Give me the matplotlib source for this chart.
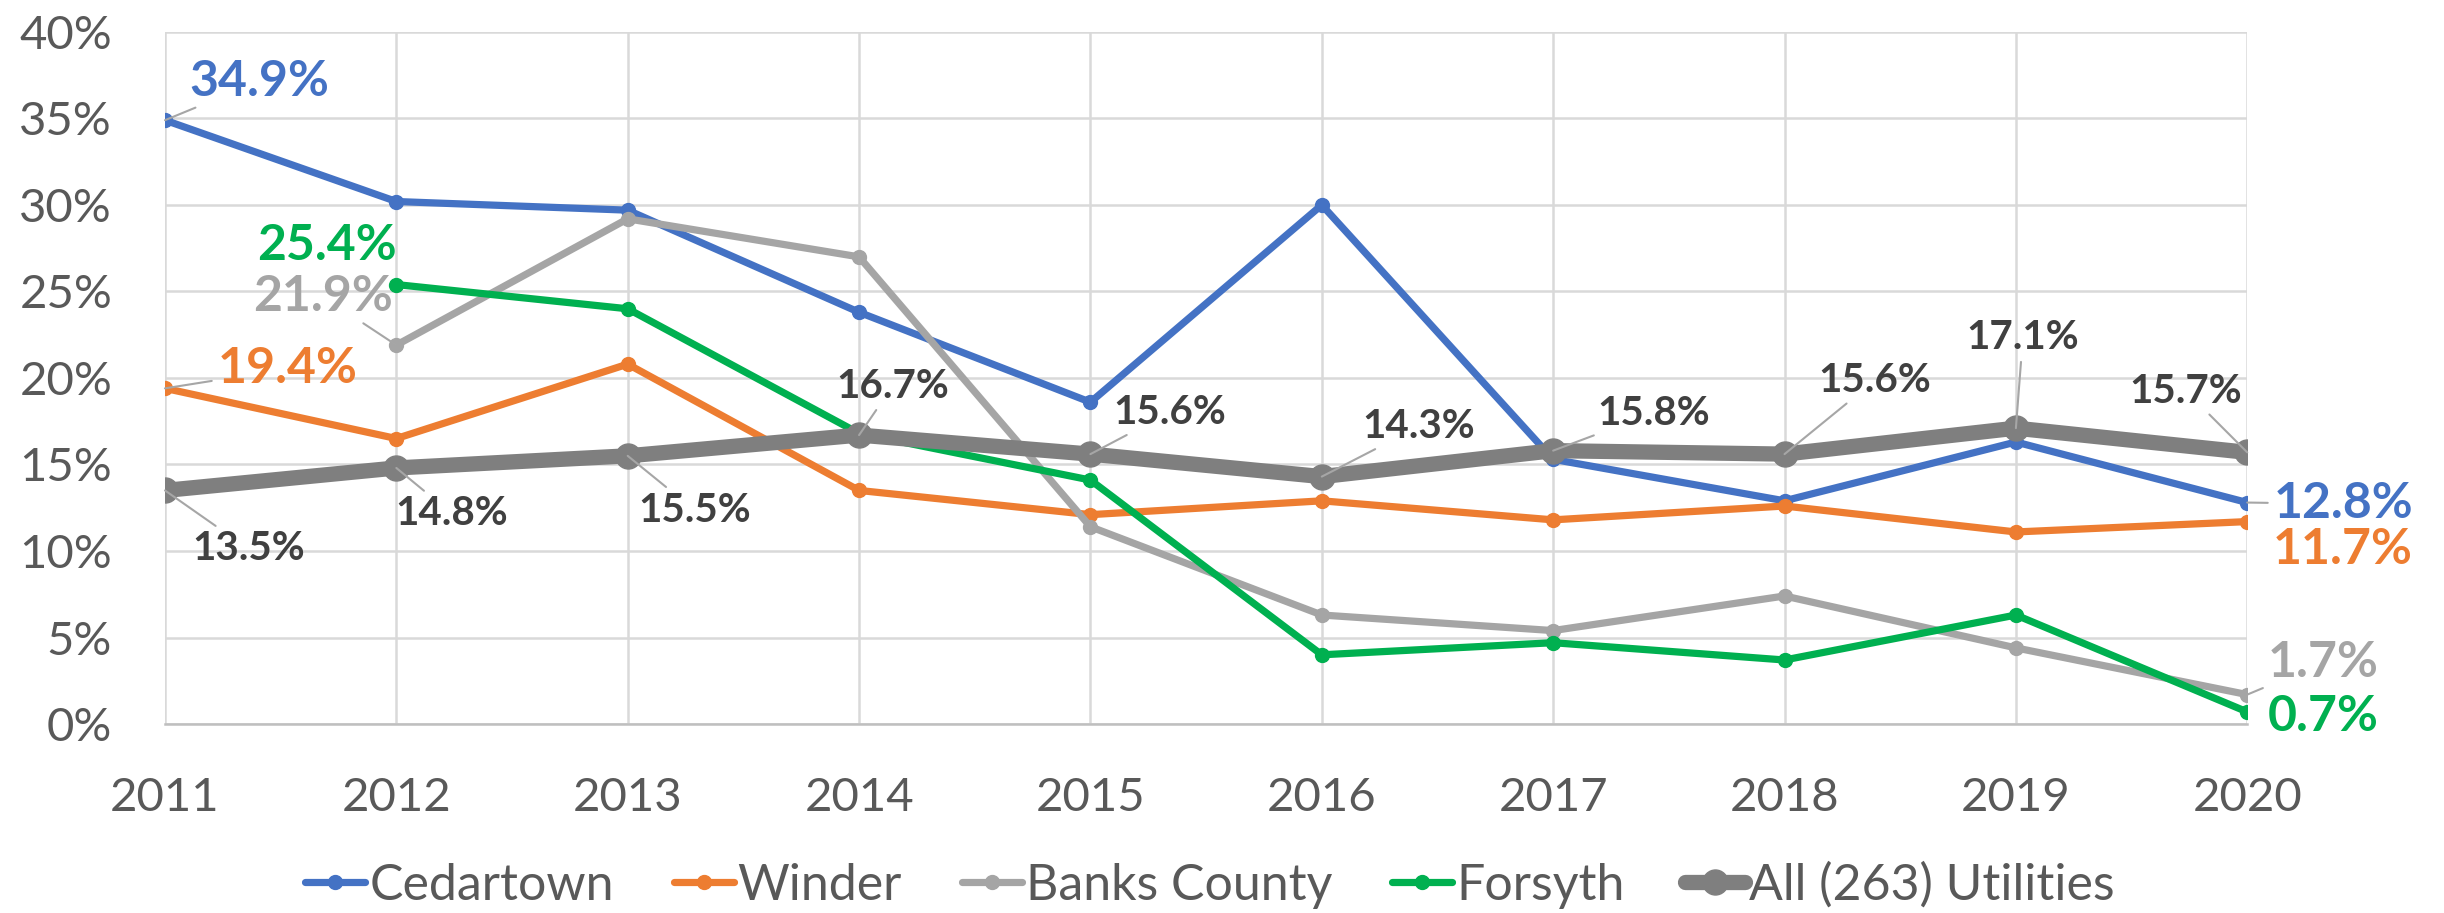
import matplotlib.pyplot as plt
from matplotlib.ticker import FuncFormatter

years = [2011, 2012, 2013, 2014, 2015, 2016, 2017, 2018, 2019, 2020]

cedartown = [34.9, 30.2, 29.7, 23.8, 18.6, 30.0, 15.3, 12.9, 16.3, 12.8]
winder = [19.4, 16.5, 20.8, 13.5, 12.1, 12.9, 11.8, 12.6, 11.1, 11.7]
banks_county = [None, 21.9, 29.2, 27.0, 11.4, 6.3, 5.4, 7.4, 4.4, 1.7]
forsyth = [None, 25.4, 24.0, 16.8, 14.1, 4.0, 4.7, 3.7, 6.3, 0.7]
all_utilities = [13.5, 14.8, 15.5, 16.7, 15.6, 14.3, 15.8, 15.6, 17.1, 15.7]

series_names = ["Cedartown", "Winder", "Banks County", "Forsyth", "All (263) Utilities"]

plt.rcParams["font.family"] = ["Lato", "DejaVu Sans"]

BLUE = "#4472C4"
ORANGE = "#ED7D31"
GREY = "#A5A5A5"
GREEN = "#00B050"
DARK = "#7F7F7F"
LABEL_DARK = "#404040"
LEADER = "#A6A6A6"

fig = plt.figure(figsize=(24.44, 9.13), dpi=100)
ax = fig.add_axes([0.0675, 0.207, 0.852, 0.758])


def clean(values):
    return [float("nan") if v is None else v for v in values]


styles = [
    (cedartown, BLUE, 5.2, 10),
    (winder, ORANGE, 5.2, 10),
    (banks_county, GREY, 5.2, 10),
    (forsyth, GREEN, 5.2, 10),
    (all_utilities, DARK, 11, 18),
]
for (values, color, lw, ms), name in zip(styles, series_names):
    ax.plot(years, clean(values), color=color, linewidth=lw, marker="o",
            markersize=ms, label=name, solid_capstyle="round")

ax.set_xlim(years[0], years[-1])
ax.set_ylim(0, 40)
ax.set_yticks(range(0, 41, 5))
ax.set_xticks(years)
ax.yaxis.set_major_formatter(FuncFormatter(lambda v, _: f"{v:.0f}%"))
ax.grid(True, color="#D9D9D9", linewidth=1.8)
ax.set_axisbelow(True)
for side in ["top", "right", "left"]:
    ax.spines[side].set_visible(False)
ax.spines["bottom"].set_color("#BFBFBF")
ax.spines["bottom"].set_linewidth(1.8)
ax.tick_params(length=0, labelsize=34, labelcolor="#595959")
ax.tick_params(axis="y", pad=38)
ax.tick_params(axis="x", pad=38)

# (series values, year index, colour, offset in points, size, leader)
labels = [
    (cedartown, 0, BLUE, (68, 28), 36, True),
    (forsyth, 1, GREEN, (-50, 28), 36, False),
    (banks_county, 1, GREY, (-53, 35), 36, True),
    (winder, 0, ORANGE, (88, 14), 36, True),
    (all_utilities, 0, LABEL_DARK, (60, -42), 29, True),
    (all_utilities, 1, LABEL_DARK, (40, -33), 29, True),
    (all_utilities, 2, LABEL_DARK, (48, -39), 29, True),
    (all_utilities, 3, LABEL_DARK, (24, 35), 29, True),
    (all_utilities, 4, LABEL_DARK, (57, 30), 29, True),
    (all_utilities, 5, LABEL_DARK, (70, 36), 29, True),
    (all_utilities, 6, LABEL_DARK, (72, 27), 29, True),
    (all_utilities, 7, LABEL_DARK, (65, 53), 29, True),
    (all_utilities, 8, LABEL_DARK, (5, 65), 29, True),
    (all_utilities, 9, LABEL_DARK, (-44, 44), 29, True),
    (cedartown, 9, BLUE, (69, -1), 36, True),
    (winder, 9, ORANGE, (69, -20), 36, False),
    (banks_county, 9, GREY, (55, 23), 36, True),
    (forsyth, 9, GREEN, (55, -3), 36, False),
]
for values, i, color, offset, size, leader in labels:
    arrow = None
    if leader:
        arrow = dict(arrowstyle="-", color=LEADER, linewidth=1.5,
                     shrinkA=2, shrinkB=0)
    ax.annotate(f"{values[i]:.1f}%", xy=(years[i], values[i]), xytext=offset,
                textcoords="offset points", ha="center", va="center",
                fontsize=size, fontweight="bold", color=color,
                arrowprops=arrow, annotation_clip=False, zorder=10)

ax.legend(loc="center", bbox_to_anchor=(0.495, 0.03),
          bbox_transform=fig.transFigure, ncol=5, frameon=False,
          fontsize=36, labelcolor="#595959", handlelength=1.2,
          handletextpad=0.08, columnspacing=1.2, borderaxespad=0)

fig.savefig("out.png", dpi=100)
